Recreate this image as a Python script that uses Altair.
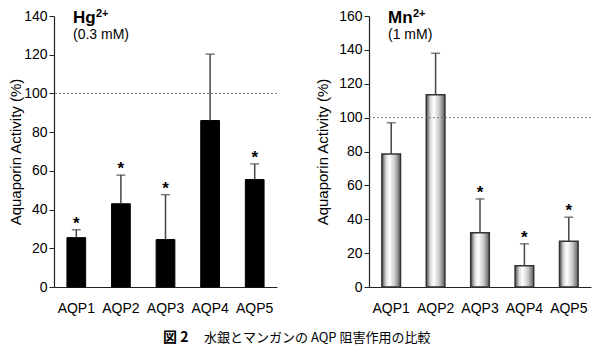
import altair as alt
import pandas as pd

# ---- data ----
categories = ["AQP1", "AQP2", "AQP3", "AQP4", "AQP5"]
hg_values = [25.5, 43.0, 24.5, 86.0, 55.5]
hg_errors = [4.1, 14.8, 23.2, 34.3, 8.1]
hg_signif = ["*", "*", "*", "", "*"]
mn_values = [78.5, 113.5, 32.0, 12.5, 27.0]
mn_errors = [18.5, 24.5, 20.0, 13.0, 14.2]
mn_signif = ["", "", "*", "*", "*"]
hg_ticks = [0, 20, 40, 60, 80, 100, 120, 140]
mn_ticks = [0, 20, 40, 60, 80, 100, 120, 140, 160]
reference_level = [100]

YTITLE = "Aquaporin Activity (%)"
FONT = "Liberation Sans"
CJK = "Noto Sans CJK JP"


def make_df(vals, errs, sig):
    return pd.DataFrame({
        "cat": categories,
        "val": vals,
        "err": errs,
        "upper": [v + e for v, e in zip(vals, errs)],
        "sig": sig,
    })


def panel(df, ticks, dmax, width, height, bar_kwargs, ion, conc, title_pad):
    xenc = alt.X("cat:N", sort=categories, title=None,
                 scale=alt.Scale(paddingInner=0.58, paddingOuter=0.29),
                 axis=alt.Axis(labelAngle=0, ticks=False, labelPadding=14,
                               labelFontSize=14, labelColor="black",
                               labelFont=FONT, labelOverlap=False,
                               domainColor="#222", domainWidth=1.2))
    yscale = alt.Scale(domain=[0, dmax], nice=False)
    yaxis = alt.Axis(values=ticks, tickCount=len(ticks), tickSize=5,
                     labelPadding=2, labelFontSize=14,
                     labelFont=FONT, titleFont=FONT, labelOverlap=False,
                     labelColor="black", titleFontSize=15, titleFontWeight="normal",
                     titleColor="black", titlePadding=title_pad, domainColor="#222",
                     tickColor="#222", domainWidth=1.2, title=YTITLE)

    def Y(field):
        return alt.Y(field, scale=yscale, axis=yaxis, title=YTITLE)

    base = alt.Chart(df)
    bars = base.mark_bar(**bar_kwargs).encode(x=xenc, y=Y("val:Q"))
    err_rule = base.mark_rule(color="#444", strokeWidth=1.5).encode(
        x=xenc, y=Y("val:Q"), y2="upper:Q")
    err_cap = base.mark_tick(orient="horizontal", size=9, thickness=1.5,
                             color="#444").encode(x=xenc, y=Y("upper:Q"))
    stars = base.mark_text(fontSize=17, fontWeight="bold", font=FONT,
                           baseline="alphabetic", dy=-1, color="black").encode(
        x=xenc, y=Y("upper:Q"), text="sig:N")
    ref = alt.Chart(pd.DataFrame({"ref": reference_level})).mark_rule(
        color="#777", strokeDash=[2, 2], strokeWidth=1).encode(y=Y("ref:Q"))
    ion_name, ion_w = ion
    t_ion = alt.Chart(pd.DataFrame({"t": [ion_name]})).mark_text(
        fontSize=17, fontWeight="bold", font=FONT, align="left",
        baseline="alphabetic", color="black").encode(
        text="t:N", x=alt.value(19), y=alt.value(7))
    t_sup = alt.Chart(pd.DataFrame({"t": ["2+"]})).mark_text(
        fontSize=11, fontWeight="bold", font=FONT, align="left",
        baseline="alphabetic", color="black").encode(
        text="t:N", x=alt.value(19 + ion_w), y=alt.value(1))
    t_conc = alt.Chart(pd.DataFrame({"t": [conc]})).mark_text(
        fontSize=14, font=FONT, align="left", baseline="alphabetic",
        color="black").encode(text="t:N", x=alt.value(19), y=alt.value(23))
    return alt.layer(bars, ref, err_rule, err_cap, stars, t_ion, t_sup,
                     t_conc).properties(width=width, height=height)


hg_df = make_df(hg_values, hg_errors, hg_signif)
mn_df = make_df(mn_values, mn_errors, mn_signif)

left = panel(hg_df, hg_ticks, 140, 223, 271,
             dict(color="black", stroke="black", strokeWidth=1),
             ("Hg", 23), "(0.3 mM)", 0)

grad = alt.Gradient(
    gradient="linear",
    stops=[alt.GradientStop(color="#4a4a4a", offset=0),
           alt.GradientStop(color="#d8d8d8", offset=0.22),
           alt.GradientStop(color="#ffffff", offset=0.4),
           alt.GradientStop(color="#c8c8c8", offset=0.7),
           alt.GradientStop(color="#5a5a5a", offset=1)],
    x1=0, x2=1, y1=0, y2=0)
right = panel(mn_df, mn_ticks, 160, 222, 271,
              dict(color=grad, stroke="#333", strokeWidth=1.5),
              ("Mn", 25), "(1 mM)", 8)

row = alt.hconcat(left, right, spacing=37)

cap1 = alt.Chart(pd.DataFrame({"t": ["図 2"]})).mark_text(
    fontSize=14, fontWeight="bold", font=CJK, align="left",
    baseline="middle", color="black").encode(
    text="t:N", x=alt.value(109), y=alt.value(6))
cap2 = alt.Chart(pd.DataFrame({"t": ["水銀とマンガンの AQP 阻害作用の比較"]})).mark_text(
    fontSize=13, font=CJK, align="left", baseline="middle",
    color="black").encode(text="t:N", x=alt.value(150), y=alt.value(6))
caption = alt.layer(cap1, cap2).properties(width=450, height=12)

chart = alt.vconcat(row, caption, spacing=16, padding=0).configure_view(
    stroke=None).configure_axis(grid=False, labelFont=FONT, titleFont=FONT)

chart.save("out.html", embed_options={"renderer": "svg", "actions": False})
